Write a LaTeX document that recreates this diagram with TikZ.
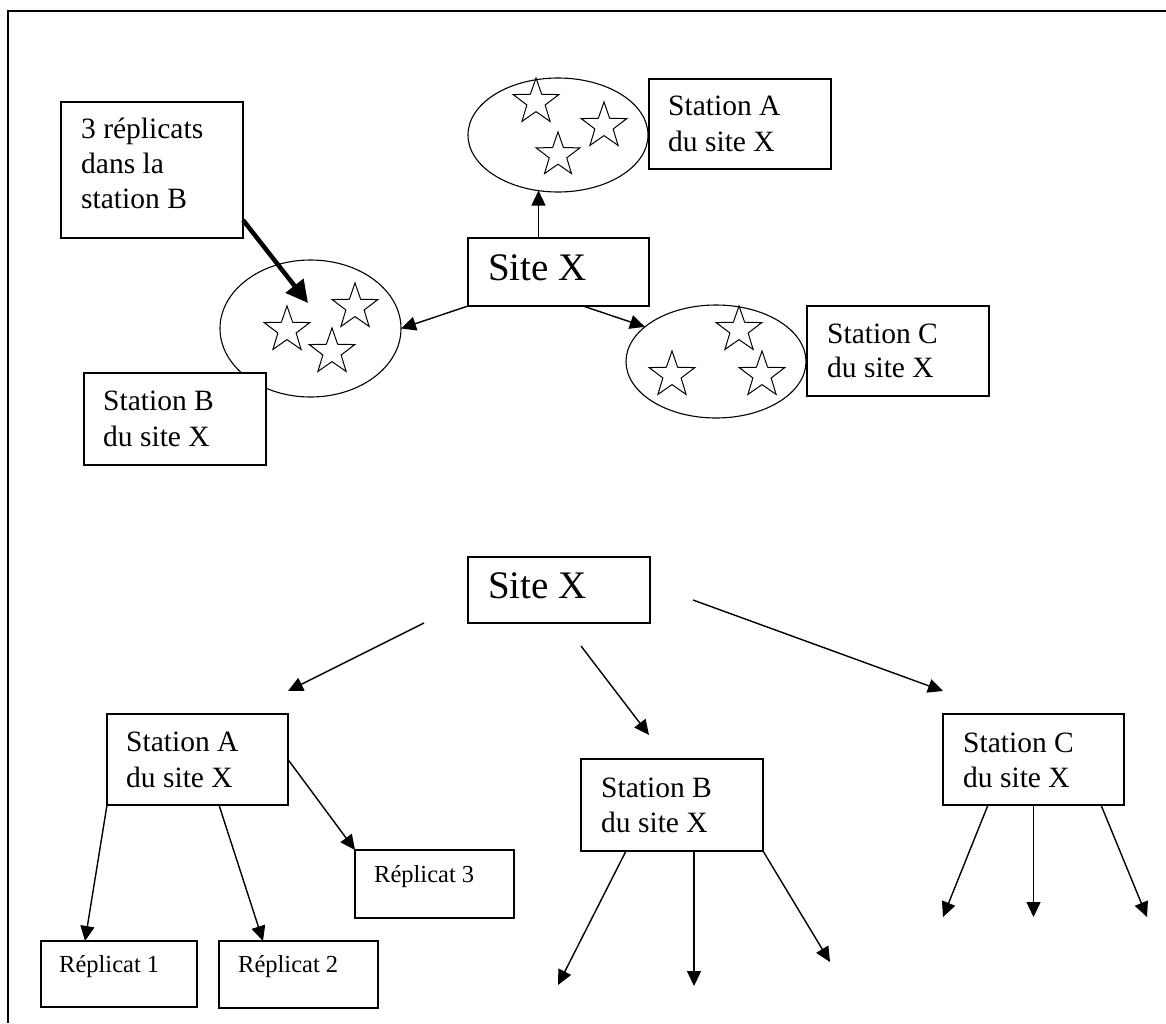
\documentclass[tikz,border=0pt]{standalone}
\usepackage{fontspec}
\setmainfont{Liberation Serif}
\usetikzlibrary{shapes.geometric,arrows.meta}
\begin{document}
\begin{tikzpicture}[x=1pt,y=-1pt,
  box/.style={draw, fill=white, line width=1.3pt, rectangle, inner sep=0pt, outer sep=0pt, anchor=north west},
  oval/.style={draw, ellipse, line width=1.1pt, inner sep=0pt, outer sep=0pt},
  starb/.style={draw, star, star points=5, star point ratio=2.5, minimum size=48pt, inner sep=0pt, outer sep=0pt, line width=1pt},
  lbl/.style={anchor=base west, inner sep=0pt, font=\fontsize{29.5}{36}\selectfont},
  big/.style={anchor=base west, inner sep=0pt, font=\fontsize{39}{46}\selectfont},
  small/.style={anchor=base west, inner sep=0pt, font=\fontsize{24.5}{30}\selectfont},
  arr/.style={-{Triangle[length=15pt,width=14pt]}, line width=1.4pt},
  thickarr/.style={-{Triangle[length=22pt,width=22pt]}, line width=4.5pt}]
\useasboundingbox (0,0) rectangle (1166,1023);

% outer frame
\coordinate (fr1) at (1166,11);
\coordinate (fr2) at (8,11);
\coordinate (fr3) at (8,1023);
\draw[line width=2.6pt] (fr1) -- (fr2) -- (fr3);

% ---------- top diagram ----------
\node[oval, minimum width=181, minimum height=137] (eB) at (310.5,328.5) {};
\node[oval, minimum width=180, minimum height=114] (eA) at (558,135) {};
\node[oval, minimum width=180, minimum height=113] (eC) at (716,361.5) {};

\node[starb] (sB1) at (287,330) {};
\node[starb] (sB2) at (355,307) {};
\node[starb] (sB3) at (332,352) {};
\node[starb] (sA1) at (536,102) {};
\node[starb] (sA2) at (604,126) {};
\node[starb, minimum size=46pt] (sA3) at (558,155) {};
\node[starb] (sC1) at (739,330) {};
\node[starb] (sC2) at (672,375) {};
\node[starb] (sC3) at (762,375) {};

\node[box, minimum width=182, minimum height=136] (rep) at (61,102) {};
\node[lbl] (rept1) at (81,138) {3 réplicats};
\node[lbl] (rept2) at (81,173) {dans la};
\node[lbl] (rept3) at (81,208) {station B};

\node[box, minimum width=182, minimum height=92] (stBt) at (84,373) {};
\node[lbl] (stBt1) at (103,410) {Station B};
\node[lbl] (stBt2) at (103,446) {du site X};

\node[box, minimum width=181, minimum height=68] (siteT) at (468,238) {};
\node[big] (siteTt) at (488,280) {Site X};

\node[box, minimum width=182, minimum height=90] (stAt) at (649,79) {};
\node[lbl] (stAt1) at (668,115) {Station A};
\node[lbl] (stAt2) at (668,151) {du site X};

\node[box, minimum width=182, minimum height=90] (stCt) at (807,306) {};
\node[lbl] (stCt1) at (827,343) {Station C};
\node[lbl] (stCt2) at (827,377) {du site X};

\coordinate (tipB) at (308,303);
\draw[thickarr] ([yshift=18pt]rep.south east) -- (tipB);
\draw[arr] ([xshift=-20pt]siteT.north) -- ([xshift=-20pt]siteT.north |- eA.250);
\draw[arr] (siteT.south west) -- (eB.east);
\draw[arr] ([xshift=24.5pt]siteT.south) -- (eC.154);

% ---------- bottom diagram ----------
\node[box, minimum width=182, minimum height=66] (siteB) at (468,557) {};
\node[big] (siteBt) at (488,598) {Site X};

\node[box, minimum width=181, minimum height=91] (stA) at (107,714) {};
\node[lbl] (stA1) at (126,751) {Station A};
\node[lbl] (stA2) at (126,787) {du site X};

\node[box, minimum width=182, minimum height=92] (stB) at (581,759) {};
\node[lbl] (stB1) at (601,797) {Station B};
\node[lbl] (stB2) at (601,832) {du site X};

\node[box, minimum width=181, minimum height=91] (stC) at (943,714) {};
\node[lbl] (stC1) at (963,752) {Station C};
\node[lbl] (stC2) at (963,787) {du site X};

\node[box, minimum width=156, minimum height=66] (r1) at (41,941) {};
\node[small] (r1t) at (59,972) {Réplicat 1};
\node[box, minimum width=159, minimum height=67] (r2) at (219,941) {};
\node[small] (r2t) at (238,972) {Réplicat 2};
\node[box, minimum width=159, minimum height=68] (r3) at (355,850) {};
\node[small] (r3t) at (374,882) {Réplicat 3};

\coordinate (a1) at (424,623);
\coordinate (a2) at (288,691);
\coordinate (b1) at (581,646);
\coordinate (b2) at (649,735);
\coordinate (c1) at (693,600);
\coordinate (c2) at (943,691);
\draw[arr] (a1) -- (a2);
\draw[arr] (b1) -- (b2);
\draw[arr] (c1) -- (c2);

\draw[arr] (stA.south west) -- ([xshift=44pt]r1.north west);
\draw[arr] ([xshift=21.5pt]stA.south) -- ([xshift=44pt]r2.north west);
\draw[arr] (stA.east) -- (r3.north west);

\coordinate (bt1) at (558,985);
\coordinate (bt2) at (694,986);
\coordinate (bt3) at (830,962);
\draw[arr] ([xshift=45pt]stB.south west) -- (bt1);
\draw[arr] ([xshift=22pt]stB.south) -- (bt2);
\draw[arr] (stB.south east) -- (bt3);

\coordinate (ct1) at (943,917);
\coordinate (ct2) at (1033.5,917);
\coordinate (ct3) at (1147,917);
\draw[arr] ([xshift=45pt]stC.south west) -- (ct1);
\draw[arr] (stC.south) -- (ct2);
\draw[arr] ([xshift=-23pt]stC.south east) -- (ct3);
\end{tikzpicture}
\end{document}
